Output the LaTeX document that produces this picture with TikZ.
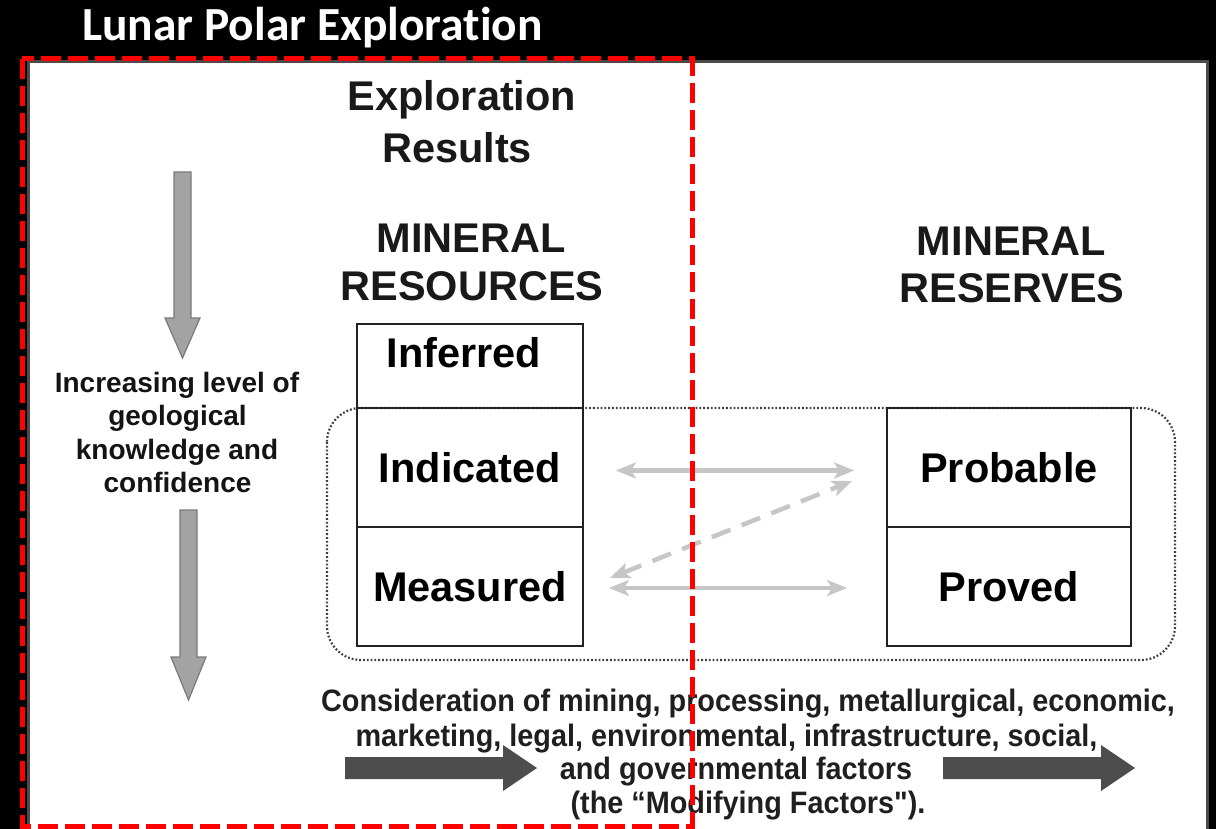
\documentclass[tikz,border=0pt]{standalone}
\usepackage{fontspec}
\setmainfont{Liberation Sans}
\newfontfamily\titlefont[Ligatures=NoCommon]{Carlito}
\newfontfamily\narrowfont[FakeStretch=0.93]{Liberation Sans}
\usetikzlibrary{arrows.meta}

\definecolor{inkgray}{HTML}{222222}
\definecolor{shaftgray}{HTML}{A3A3A3}
\definecolor{shaftedge}{HTML}{7A7A7A}
\definecolor{darkarrow}{HTML}{4D4D4D}
\definecolor{linkgray}{HTML}{C6C6C6}
\definecolor{framegray}{HTML}{4A4A4A}

\begin{document}
\begin{tikzpicture}[x=1pt,y=-1pt,
  cell/.style={draw=inkgray, line width=1.8pt, minimum width=226pt, inner sep=0pt,
               font=\fontsize{41.5}{45}\selectfont\bfseries, text=black},
  head/.style={anchor=base, font=\fontsize{41.5}{45}\selectfont\bfseries, text=black!90},
  side/.style={anchor=base, font=\fontsize{28}{33}\selectfont\bfseries, text=black!92},
  foot/.style={anchor=base, font=\narrowfont\fontsize{31}{34}\selectfont\bfseries, text=black!88},
  link/.style={draw=linkgray, line width=4.5pt,
               {Stealth[length=20pt,width=16pt,inset=5pt]}-{Stealth[length=20pt,width=16pt,inset=5pt]}},
  downarrow/.style={fill=shaftgray, draw=shaftedge, line width=1.2pt},
  rightarrow/.style={fill=darkarrow, draw=none}
]
\useasboundingbox (0,0) rectangle (1216,829);
\fill[black] (0,0) rectangle (1216,829);

% title bar
\node[anchor=base west, inner sep=0pt, text=white,
      font=\titlefont\bfseries\fontsize{47.5}{50}\selectfont] (title) at (82,41) {Lunar Polar Exploration};

% white panel
\fill[white] (28,62) rectangle (1207,829);
\draw[framegray, line width=3pt] (28,829) -- (28,62) -- (1207,62) -- (1207,829);

% headings
\node[head] (expl) at (462,111) {Exploration};
\node[head] (res)  at (457,163) {Results};
\node[head] (mrl)  at (471,253) {MINERAL};
\node[head] (mrs)  at (472,300) {RESOURCES};
\node[head] (mrr)  at (1011.5,255) {MINERAL};
\node[head] (mrv)  at (1012,302) {RESERVES};

% left column: confidence arrows and caption
\draw[downarrow] (174,172) -- (191,172) -- (191,318) -- (200,318) -- (182.5,358)
      -- (165,318) -- (174,318) -- cycle;
\node[side] (c1) at (177,392) {Increasing level of};
\node[side] (c2) at (177.5,425) {geological};
\node[side] (c3) at (177,459) {knowledge and};
\node[side] (c4) at (177.5,492) {confidence};
\draw[downarrow] (180,510) -- (197,510) -- (197,657) -- (206,657) -- (188.5,700)
      -- (171,657) -- (180,657) -- cycle;

% dotted grouping of the convertible categories
\draw[black!75, line width=2.2pt, dash pattern=on 1.8pt off 2.0pt, rounded corners=34pt]
      (327,408) rectangle (1175,660);

% resource categories
\node[cell, minimum height=84pt] (inf) at (470,366) {};
\node[anchor=base, font=\fontsize{41.5}{45}\selectfont\bfseries] (inft) at (464,367) {Inferred};
\node[cell, minimum height=119pt] (ind) at (470,467.5) {Indicated};
\node[cell, minimum height=119pt] (mea) at (470,586.5) {Measured};

% reserve categories
\node[cell, minimum width=244pt, minimum height=119pt] (prob) at (1009,467.5) {Probable};
\node[cell, minimum width=244pt, minimum height=119pt] (prov) at (1009,586.5) {Proved};

% conversion links
\draw[link, shorten <=32pt, shorten >=32pt] ([yshift=-3pt]ind.east) -- ([yshift=-3pt]prob.west);
\draw[link, shorten <=25pt, shorten >=39pt] ([yshift=-1.5pt]mea.east) -- ([yshift=-1.5pt]prov.west);
\coordinate (dtop) at (852,481);
\coordinate (dbot) at (610,578);
\draw[link, dash pattern=on 20pt off 12pt] (dbot) -- (dtop);

% modifying factors
\node[foot] (f1) at (748,711) {Consideration of mining, processing, metallurgical, economic,};
\node[foot] (f2) at (726.5,746) {marketing, legal, environmental, infrastructure, social,};
\node[foot] (f3) at (736,779) {and governmental factors};
\node[foot] (f4) at (748,813) {(the “Modifying Factors").};
\fill[rightarrow] (345,757) -- (503,757) -- (503,745) -- (537,768) -- (503,791)
      -- (503,779) -- (345,779) -- cycle;
\fill[rightarrow] (943,757) -- (1101,757) -- (1101,745) -- (1135,768) -- (1101,791)
      -- (1101,779) -- (943,779) -- cycle;

% highlight frame
\draw[red, line width=5pt, dash pattern=on 20pt off 7pt] (22,59) rectangle (692,826);
\end{tikzpicture}
\end{document}
